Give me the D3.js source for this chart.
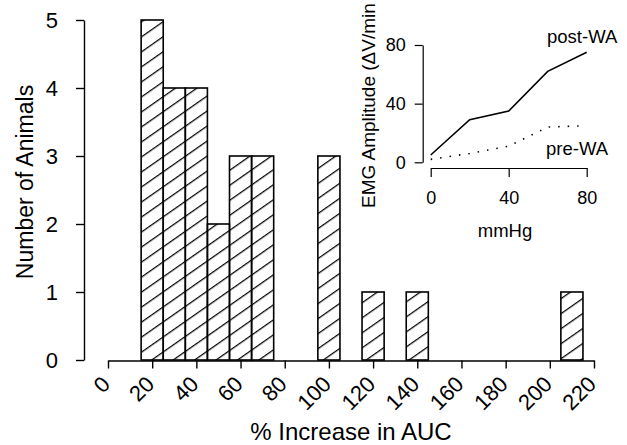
<!DOCTYPE html>
<html>
<head>
<meta charset="utf-8">
<script src="https://cdn.jsdelivr.net/npm/d3@7/dist/d3.min.js"></script>
<style>
    html, body { margin: 0; padding: 0; background: #fff; }
    svg text { font-family: "Liberation Sans", Arial, sans-serif; fill: #000; }
</style>
</head>
<body>
<div id="chart"></div>
<script>
// histogram: bin centres (% increase in AUC) and number of animals
var binCenters = [20, 30, 40, 50, 60, 70, 100, 120, 140, 210];
var binCounts = [5, 4, 4, 2, 3, 3, 3, 1, 1, 1];
var binWidth = 10;
var xTicks = [0, 20, 40, 60, 80, 100, 120, 140, 160, 180, 200, 220];
var yTicks = [0, 1, 2, 3, 4, 5];

// inset: EMG amplitude vs pressure
var pressure = [0, 20, 40, 60, 80];
var postWA = [5, 29, 35, 62, 75];
var preWA = [2, 6, 11, 24, 25];
var insetXTicks = [0, 40, 80];
var insetYTicks = [0, 40, 80];

( function(d3) {
    var width = 627,
        height = 445;

    var svg = d3.select("#chart").append("svg")
        .attr("width", width)
        .attr("height", height);

    // hatch pattern
    var defs = svg.append("defs");
    defs.append("pattern")
        .attr("id", "hatch")
        .attr("patternUnits", "userSpaceOnUse")
        .attr("width", 10)
        .attr("height", 12.3)
        .attr("patternTransform", "rotate(-35)")
        .append("line")
        .attr("x1", 0).attr("x2", 10)
        .attr("y1", 0.6).attr("y2", 0.6)
        .attr("stroke", "#000")
        .attr("stroke-width", 1.3);

    var x = d3.scaleLinear().domain([0, 220]).range([108, 594]),
        y = d3.scaleLinear().domain([0, 5]).range([360, 20]);

    // bars
    svg.append("g").selectAll("rect")
        .data(binCenters)
        .enter().append("rect")
        .attr("x", function(d) { return x(d - binWidth / 2); })
        .attr("width", function(d) { return x(d + binWidth / 2) - x(d - binWidth / 2); })
        .attr("y", function(d, i) { return y(binCounts[i]); })
        .attr("height", function(d, i) { return y(0) - y(binCounts[i]); })
        .attr("fill", "url(#hatch)")
        .attr("stroke", "#000")
        .attr("stroke-width", 1.6);

    // x axis
    var gx = svg.append("g")
        .attr("transform", "translate(0,360.5)")
        .call(d3.axisBottom(x).tickValues(xTicks).tickSize(8).tickSizeOuter(0).tickFormat(d3.format("d")));
    gx.select(".domain").attr("stroke-width", 1.6);
    gx.selectAll(".tick line").attr("stroke-width", 1.4);
    gx.selectAll(".tick text")
        .attr("font-size", 22)
        .attr("text-anchor", "end")
        .attr("x", 0).attr("y", 0).attr("dy", 0)
        .attr("transform", "translate(3,25) rotate(-45)");

    // y axis
    var gy = svg.append("g")
        .attr("transform", "translate(84,0)")
        .call(d3.axisLeft(y).tickValues(yTicks).tickSize(8).tickSizeOuter(0).tickPadding(18).tickFormat(d3.format("d")));
    gy.select(".domain").attr("stroke-width", 1.4);
    gy.selectAll(".tick line").attr("stroke-width", 1.4);
    gy.selectAll(".tick text").attr("font-size", 22);

    svg.append("text")
        .attr("transform", "translate(33,182) rotate(-90)")
        .attr("text-anchor", "middle")
        .attr("font-size", 23)
        .text("Number of Animals");

    svg.append("text")
        .attr("x", 351).attr("y", 440)
        .attr("text-anchor", "middle")
        .attr("font-size", 24)
        .text("% Increase in AUC");

    // inset
    var ix = d3.scaleLinear().domain([0, 80]).range([430.7, 586.7]),
        iy = d3.scaleLinear().domain([0, 80]).range([162.3, 45]);

    var igx = svg.append("g")
        .attr("transform", "translate(0,168)")
        .call(d3.axisBottom(ix).tickValues(insetXTicks).tickSize(9).tickSizeOuter(0).tickPadding(14));
    igx.selectAll(".tick text").attr("font-size", 18);

    var igy = svg.append("g")
        .attr("transform", "translate(422.7,0)")
        .call(d3.axisLeft(iy).tickValues(insetYTicks).tickSize(8).tickSizeOuter(0).tickPadding(9));
    igy.selectAll(".tick text").attr("font-size", 18);

    svg.selectAll(".domain, .tick line").attr("stroke", "#000");
    igx.selectAll(".domain, .tick line").attr("stroke-width", 1.2);
    igy.selectAll(".domain, .tick line").attr("stroke-width", 1.2);

    var line = d3.line()
        .x(function(d, i) { return ix(pressure[i]); })
        .y(function(d) { return iy(d); });

    svg.append("path")
        .datum(postWA)
        .attr("d", line)
        .attr("fill", "none")
        .attr("stroke", "#000")
        .attr("stroke-width", 1.6);

    svg.append("path")
        .datum(preWA)
        .attr("d", line)
        .attr("fill", "none")
        .attr("stroke", "#000")
        .attr("stroke-width", 1.6)
        .attr("stroke-dasharray", "1.5 8");

    svg.append("text")
        .attr("x", 547).attr("y", 43)
        .attr("font-size", 18.5)
        .text("post-WA");

    svg.append("text")
        .attr("x", 546).attr("y", 155)
        .attr("font-size", 18.5)
        .text("pre-WA");

    svg.append("text")
        .attr("x", 505).attr("y", 237)
        .attr("text-anchor", "middle")
        .attr("font-size", 18.5)
        .text("mmHg");

    // the closing bracket is off the top edge in the original, so only the visible part is drawn
    svg.append("text")
        .attr("transform", "translate(375,208) rotate(-90)")
        .attr("font-size", 19)
        .text("EMG Amplitude (\u0394V/min");

})(d3);
</script>
</body>
</html>
